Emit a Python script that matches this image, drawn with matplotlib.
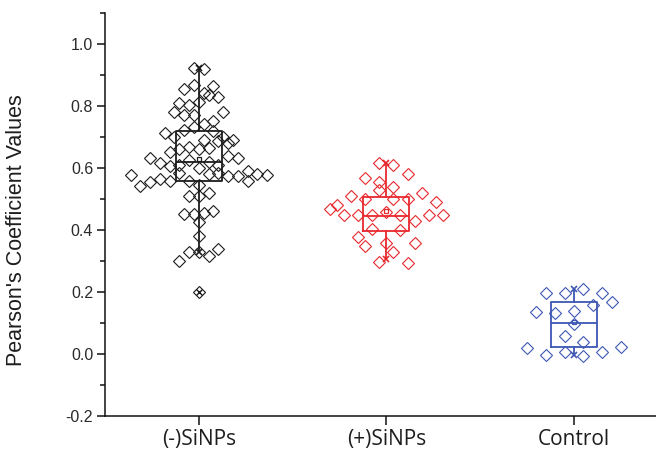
import numpy as np
import matplotlib
matplotlib.use("Agg")
import matplotlib.pyplot as plt

# ---- data -------------------------------------------------------------
categories = ["(-)SiNPs", "(+)SiNPs", "Control"]

neg_sinps = [
    0.922, 0.920,
    0.854, 0.868, 0.843, 0.865,
    0.809, 0.803, 0.814, 0.835, 0.830,
    0.782, 0.771, 0.771, 0.742, 0.753, 0.782,
    0.712, 0.699, 0.723, 0.731, 0.690, 0.720, 0.699, 0.690,
    0.653, 0.660, 0.669, 0.660, 0.663, 0.688, 0.680,
    0.631, 0.617, 0.606, 0.610, 0.626, 0.599, 0.620, 0.610, 0.639, 0.631, 0.591,
    0.577, 0.542, 0.556, 0.563, 0.559, 0.585, 0.559, 0.545, 0.581, 0.583,
    0.574, 0.574, 0.559, 0.581, 0.577,
    0.510, 0.510, 0.518,
    0.451, 0.451, 0.454, 0.462,
    0.427,
    0.381,
    0.301, 0.330, 0.330, 0.316, 0.338,
    0.199,
]

pos_sinps = [
    0.617, 0.610,
    0.567, 0.556, 0.540, 0.581,
    0.481, 0.510, 0.499, 0.529, 0.499, 0.499, 0.520, 0.491,
    0.469, 0.448, 0.448, 0.448, 0.459, 0.448, 0.430, 0.448, 0.448,
    0.378, 0.402, 0.359, 0.400, 0.359,
    0.348, 0.297, 0.330, 0.295,
]

control = [
    0.018, -0.003, 0.008, -0.006, 0.008, 0.024,
    0.058, 0.040,
    0.097,
    0.136, 0.131, 0.140, 0.158, 0.169,
    0.198, 0.198, 0.209, 0.198,
]

# box statistics per group
box_q1 = [0.558, 0.398, 0.022]
box_median = [0.618, 0.445, 0.099]
box_q3 = [0.719, 0.505, 0.167]
box_mean = [0.628, 0.461, 0.103]
whisker_low = [0.330, 0.305, -0.003]
whisker_high = [0.922, 0.615, 0.209]
outliers = [[0.199], [], []]

y_ticks = [-0.2, 0.0, 0.2, 0.4, 0.6, 0.8, 1.0]

# ---- styling ------------------------------------------------------------
colors = ["#1c1c1c", "#e8272d", "#3d57b3"]
bin_width = [0.05, 0.06, 0.05]
bin_origin = [0.0395, 0.29, -0.025]
step = [0.052, 0.075, 0.10]


def spread(values, width, origin, dx):
    """Distribute points sideways within value bins, centred on the group."""
    v = np.asarray(values, dtype=float)
    bins = np.floor((v - origin) / width).astype(int)
    offs = np.zeros(len(v))
    for b in np.unique(bins):
        idx = np.where(bins == b)[0]
        n = len(idx)
        offs[idx] = (np.arange(n) - (n - 1) / 2.0) * dx
    return offs


fig = plt.figure(figsize=(6.56, 4.58), dpi=100)
ax = fig.add_axes([105 / 656, 42 / 458, 551 / 656, 403 / 458])

groups = [neg_sinps, pos_sinps, control]
positions = [1, 2, 3]

for i, (vals, pos, col) in enumerate(zip(groups, positions, colors)):
    stats = [dict(med=box_median[i], q1=box_q1[i], q3=box_q3[i],
                  whislo=whisker_low[i], whishi=whisker_high[i],
                  mean=box_mean[i], fliers=outliers[i], label=categories[i])]
    ax.bxp(stats, positions=[pos], widths=0.245, showmeans=True,
           showcaps=False, showfliers=True, patch_artist=False,
           boxprops=dict(color=col, linewidth=1.3),
           medianprops=dict(color=col, linewidth=1.3),
           whiskerprops=dict(color=col, linewidth=1.3),
           meanprops=dict(marker="s", markersize=3.2, markerfacecolor="none",
                          markeredgecolor=col, markeredgewidth=0.9),
           flierprops=dict(marker="x", markersize=5, markeredgecolor=col,
                           markeredgewidth=1.0),
           manage_ticks=False, zorder=2)
    ax.plot([pos, pos], [whisker_low[i], whisker_high[i]], linestyle="none",
            marker="x", markersize=5, markeredgewidth=1.2, color=col, zorder=3)

    xs = pos + spread(vals, bin_width[i], bin_origin[i], step[i])
    ax.plot(xs, vals, linestyle="none", marker="D", markersize=6.2,
            markerfacecolor="none", markeredgecolor=col,
            markeredgewidth=0.8, zorder=4)

# ---- axes ---------------------------------------------------------------
ax.set_xlim(0.5, 3.437)
ax.set_ylim(-0.2, 1.1)

for side in ("top", "right"):
    ax.spines[side].set_visible(False)
for side in ("left", "bottom"):
    ax.spines[side].set_linewidth(1.1)
    ax.spines[side].set_color("#111111")

ax.set_xticks(positions)
ax.set_xticklabels(categories, family="Open Sans", fontsize=15,
                   color="#1e1e1e")
ax.set_yticks(y_ticks)
ax.set_yticklabels([f"{t:.1f}" for t in y_ticks], family="Liberation Sans",
                   fontsize=11.5, color="#2a2a2a")
ax.set_yticks(np.arange(-0.1, 1.15, 0.2), minor=True)

ax.tick_params(axis="x", which="major", direction="out", length=6.5,
               width=1.1, pad=3, color="#111111")
ax.tick_params(axis="y", which="major", direction="out", length=5.5,
               width=1.1, pad=3, color="#111111")
ax.tick_params(axis="y", which="minor", direction="out", length=3.5,
               width=1.1, color="#111111")

ax.set_ylabel("Pearson's Coefficient Values", family="Liberation Sans",
              fontsize=15.5, color="#1e1e1e")
ax.yaxis.set_label_coords(-0.142, 0.462)

fig.savefig("out.png", dpi=100)
